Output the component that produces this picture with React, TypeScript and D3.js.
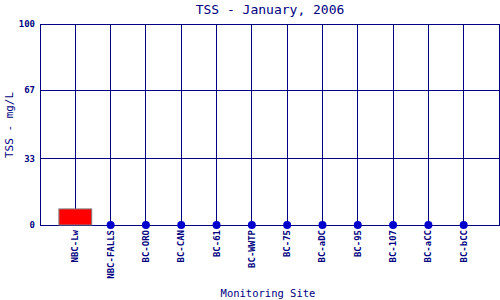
import React from "react";
import * as d3 from "d3";

const sites = ["NBC-Lw", "NBC-FALLS", "BC-ORO", "BC-CAN", "BC-61", "BC-WWTP", "BC-75", "BC-aDC", "BC-95", "BC-107", "BC-aCC", "BC-bCC"];
const tss = [8, 0, 0, 0, 0, 0, 0, 0, 0, 0, 0, 0];
const yTicks = [0, 33, 67, 100];

const W = 500, H = 300;
const L = 40, R = 499, T = 24, B = 225;
const navy = "#000080";
const font = "'DejaVu Sans Mono', 'Liberation Mono', monospace";

export default function App() {
  const x = d3.scalePoint<string>().domain(sites).range([L, R]).padding(1);
  const y = d3.scaleLinear().domain([0, 100]).range([B, T]);
  const bw = x.step() * 0.93;
  return (
    <svg width={W} height={H} style={{ position: "absolute", left: 0, top: 0 }} fontFamily={font}>
      <rect x={0} y={0} width={W} height={H} fill="#fff" />
      <text x={270} y={14} textAnchor="middle" fontSize={13} fill={navy}>TSS - January, 2006</text>
      {yTicks.map((t) => (
        <g key={t}>
          <line x1={L} x2={R} y1={y(t)} y2={y(t)} stroke={navy} strokeWidth={1} shapeRendering="crispEdges" />
          <text x={35} y={y(t) + 3} textAnchor="end" fontSize={9} fontWeight="bold" fill={navy}>{t}</text>
        </g>
      ))}
      {sites.map((s) => (
        <line key={s} x1={x(s)} x2={x(s)} y1={T} y2={B} stroke={navy} strokeWidth={1} shapeRendering="crispEdges" />
      ))}
      <rect x={L} y={T} width={R - L} height={B - T} fill="none" stroke={navy} strokeWidth={1} shapeRendering="crispEdges" />
      {sites.map((s, i) =>
        tss[i] > 0 ? (
          <rect key={s} x={(x(s) as number) - bw / 2} y={y(tss[i])} width={bw} height={B - y(tss[i])} fill="#ff0000" stroke="#808080" strokeWidth={1} />
        ) : (
          <circle key={s} cx={x(s)} cy={y(tss[i])} r={4} fill="#0000cc" />
        )
      )}
      {sites.map((s) => (
        <text key={s} transform={`translate(${(x(s) as number) + 3},230) rotate(-90)`} textAnchor="end" fontSize={9} fontWeight="bold" fill={navy}>{s}</text>
      ))}
      <text transform={`translate(13,125) rotate(-90)`} textAnchor="middle" fontSize={11} fill={navy}>TSS - mg/L</text>
      <text x={268} y={297} textAnchor="middle" fontSize={10.5} fill={navy}>Monitoring Site</text>
    </svg>
  );
}
